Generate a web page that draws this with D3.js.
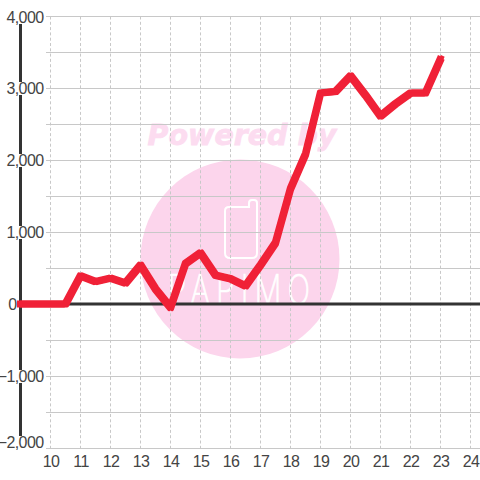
<!DOCTYPE html>
<html><head><meta charset="utf-8">
<style>html,body{margin:0;padding:0;background:#fff}svg{display:block}</style>
<script src="https://cdn.jsdelivr.net/npm/d3@7"></script></head>
<body><div id="c"></div>
<script>
const xTicks=[10,11,12,13,14,15,16,17,18,19,20,21,22,23,24];
const yLabelTicks=[-2000,-1000,0,1000,2000,3000,4000];
const yGridTicks=[-2000,-1500,-1000,-500,0,500,1000,1500,2000,2500,3000,3500,4000];
const hours=[9,9.5,10,10.5,11,11.5,12,12.5,13,13.5,14,14.5,15,15.5,16,16.5,17,17.5,18,18.5,19,19.5,20,20.5,21,21.5,22,22.5,23];
const values=[0,0,0,0,390,310,360,290,540,210,-50,560,710,400,350,250,540,850,1600,2080,2930,2950,3170,2900,2610,2780,2930,2930,3400];

const svg=d3.select('#c').append('svg').attr('width',480).attr('height',480);
const x=d3.scaleLinear().domain([10,24]).range([50.5,470.5]);
const y=d3.scaleLinear().domain([-2000,4000]).range([448.5,16.5]);

// watermark
const wm=svg.append('g');
wm.append('circle').attr('cx',240).attr('cy',259).attr('r',99.5).attr('fill','#fcd5ec');
wm.append('text').attr('x',242).attr('y',145).attr('text-anchor','middle')
  .attr('font-family','"DejaVu Sans"').attr('font-weight','bold').attr('font-style','italic')
  .attr('font-size',28.5).attr('fill','#fcdcf0').attr('stroke','#fcdcf0').attr('stroke-width',0.8).text('Powered by');
wm.append('path').attr('fill','none').attr('stroke','#fff').attr('stroke-width',2)
  .attr('d','M229 207H249V203Q249 200 252 200H254Q257 200 257 203V253Q257 258 252 258H230Q225 258 225 253V211Q225 207 229 207Z');
wm.append('text').attr('transform','translate(242,304) scale(0.73,1)').attr('text-anchor','middle')
  .attr('font-family','Inter').attr('font-weight',200).attr('font-size',41)
  .attr('letter-spacing',8.5).attr('fill','#fff').attr('stroke','#fff').attr('stroke-width',0.7).text('PAPIMO');

// grid
svg.append('g').selectAll('line').data(yGridTicks).join('line')
  .attr('x1',46).attr('x2',480).attr('y1',d=>y(d)).attr('y2',d=>y(d))
  .attr('stroke','#c8c8c8').attr('stroke-width',1);
svg.append('g').selectAll('line').data(xTicks).join('line')
  .attr('x1',d=>x(d)).attr('x2',d=>x(d)).attr('y1',y(4000)).attr('y2',y(-2000))
  .attr('stroke','#c8c8c8').attr('stroke-width',1).attr('stroke-dasharray','3,2.3');

// axes
svg.append('line').attr('x1',20.5).attr('x2',20.5).attr('y1',y(4000)).attr('y2',y(-2000))
  .attr('stroke','#333').attr('stroke-width',3);
svg.append('line').attr('x1',17).attr('x2',480).attr('y1',y(0)-0.5).attr('y2',y(0)-0.5)
  .attr('stroke','#333').attr('stroke-width',3);

// y labels with white backing
const fmt=d3.format(',');
const base=d=>d===-2000?448:d===4000?23:y(d)+5.5;
const yl=svg.append('g').selectAll('g').data(yLabelTicks).join('g');
yl.filter(d=>d!==0).append('rect').attr('x',d=>d<0?2:6).attr('width',d=>d<0?42:38)
  .attr('y',d=>base(d)-12).attr('height',13).attr('fill','#fff');
yl.append('text').attr('x',d=>d===0?16.5:43.5).attr('y',base).attr('text-anchor','end')
  .attr('font-family','"Liberation Sans"').attr('font-size',16).attr('letter-spacing',-0.6)
  .attr('fill','#444').text(d=>fmt(d));

// x labels
svg.append('g').selectAll('text').data(xTicks).join('text')
  .attr('x',d=>x(d)+0.5).attr('y',467).attr('text-anchor','middle')
  .attr('font-family','"Liberation Sans"').attr('font-size',16).attr('letter-spacing',-0.6)
  .attr('fill','#444').text(d=>d);

// series: stacked strokes give the square-brush look of the original line
const brush=[[0,-0.5],[-1.5,-2],[1.5,-2],[-1.5,1],[1.5,1]];
const line=d3.line().x((d,i)=>x(hours[i])).y(d=>y(d));
svg.append('g').selectAll('path').data(brush).join('path')
  .attr('d',line(values)).attr('transform',d=>`translate(${d[0]},${d[1]})`)
  .attr('fill','none').attr('stroke','#f02137').attr('stroke-width',4)
  .attr('stroke-linecap','square').attr('stroke-linejoin','round');
</script></body></html>
